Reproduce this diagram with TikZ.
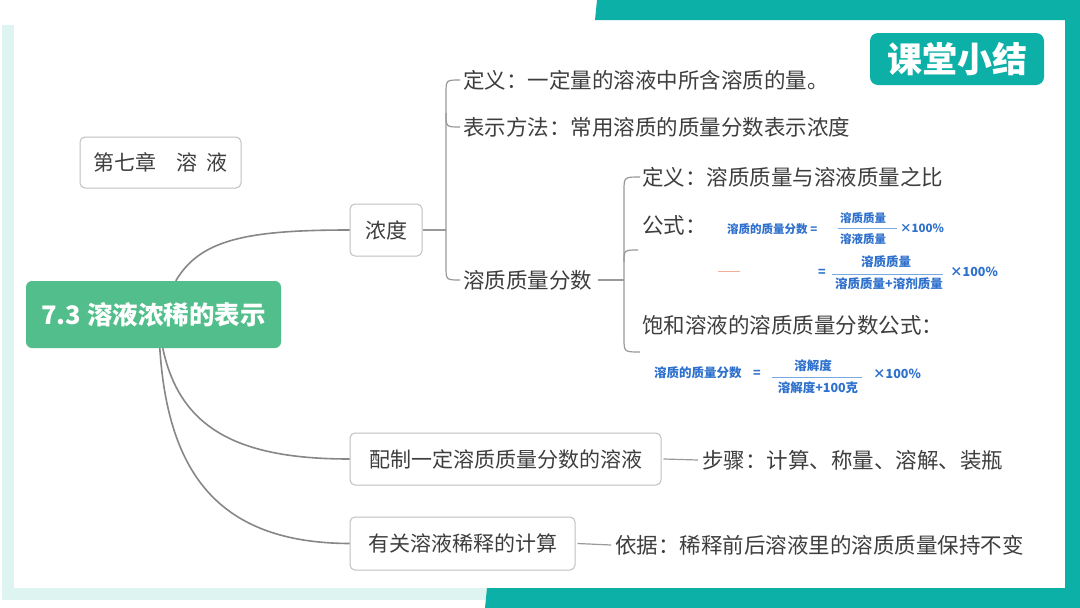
\documentclass[tikz,border=0pt]{standalone}
\usepackage{fontspec}
\setmainfont{Noto Sans CJK SC}
\usetikzlibrary{calc}
\definecolor{teal1}{RGB}{12,176,166}
\definecolor{shadowc}{RGB}{222,244,241}
\definecolor{greenn}{RGB}{82,190,140}
\definecolor{txt}{RGB}{62,62,62}
\definecolor{lnc}{RGB}{135,135,135}
\definecolor{bdr}{RGB}{192,192,192}
\definecolor{fblue}{RGB}{45,112,205}
\definecolor{barblue}{RGB}{120,170,225}
\definecolor{orng}{RGB}{240,175,150}
\begin{document}
\begin{tikzpicture}[x=1pt,y=-1pt,
  box/.style={draw=bdr,line width=1pt,rounded corners=5pt,fill=white,
    font=\fontsize{21}{24}\selectfont,text=txt,inner sep=0pt,minimum height=52pt},
  lbl/.style={anchor=west,font=\fontsize{21.5}{24}\selectfont,text=txt,inner sep=0pt},
  conn/.style={draw=lnc,line width=1.6pt},
  br/.style={draw=lnc!85,line width=1.2pt},
  fm/.style={font=\fontsize{11.5}{13}\selectfont\bfseries,text=fblue,inner sep=0pt},
  fmb/.style={font=\fontsize{12.5}{14}\selectfont\bfseries,text=fblue,inner sep=0pt},
  fbar/.style={draw=barblue,line width=0.9pt}
]
\useasboundingbox (0,0) rectangle (1080,608);
% background
\fill[white] (0,0) rectangle (1080,608);
\fill[shadowc] (2,25) rectangle (14,600);
\fill[shadowc] (2,588) rectangle (490,600);
\fill[white] (14,20) rectangle (1065,588);
\fill[teal1] (597,0) -- (1080,0) -- (1080,20) -- (595,20) -- cycle;
\fill[teal1] (1065,0) rectangle (1080,608);
\fill[teal1] (487,588) -- (1080,588) -- (1080,608) -- (485,608) -- cycle;

% title
\node[fill=teal1,rounded corners=8pt,minimum width=174pt,minimum height=52pt,inner sep=0pt,
  text=white,font=\fontsize{35}{38}\selectfont\bfseries] (title) at (957,59) {课堂小结};

% nodes
\node[box,minimum width=161pt,minimum height=51pt] (chap) at (160.5,162.5) {第七章\hspace{20pt}溶\hspace{9pt}液};
\node[fill=greenn,rounded corners=6pt,minimum width=255pt,minimum height=67pt,inner sep=0pt,
  text=white,font=\fontsize{25.5}{28}\selectfont\bfseries] (main) at (153.5,314.5) {7.3 溶液浓稀的表示};
\node[box,minimum width=72pt] (nd) at (386,230) {浓度};
\node[box,minimum width=311pt] (pz) at (505.5,459) {配制一定溶质质量分数的溶液};
\node[box,minimum width=225pt,minimum height=53pt] (yg) at (462.5,543.5) {有关溶液稀释的计算};

% level-2 labels
\node[lbl] (def1) at (463,80) {定义：一定量的溶液中所含溶质的量。};
\node[lbl] (rep1) at (463,127) {表示方法：常用溶质的质量分数表示浓度};
\node[lbl] (zf) at (463,280) {溶质质量分数};
\node[lbl] (def2) at (642,177) {定义：溶质质量与溶液质量之比};
\node[lbl] (gs) at (642,225) {公式：};
\node[lbl] (bh) at (642,325) {饱和溶液的溶质质量分数公式：};
\node[lbl] (bz) at (702,460) {步骤：计算、称量、溶解、装瓶};
\node[lbl] (yj) at (615,545) {依据：稀释前后溶液里的溶质质量保持不变};

% connectors from main
\draw[conn] ($(main.north west)+(150,0)$) .. controls (200,240) and (245,230) .. (nd.west);
\draw[conn] ($(main.south west)+(137,0)$) .. controls (180,430) and (240,459) .. (pz.west);
\draw[conn] ($(main.south west)+(134,0)$) .. controls (168,475) and (220,543) .. (yg.west);

% brace 1
\coordinate (b1) at (446,230);
\draw[br] ($(def1.west)+(-3,0)$) .. controls (446,80) .. (446,94) -- (446,266)
  .. controls (446,280) .. ($(zf.west)+(-3,0)$);
\draw[br] (446,113) .. controls (446,127) .. ($(rep1.west)+(-3,0)$);
\draw[br] (nd.east) -- (b1);

% brace 2
\coordinate (b2) at (624,280);
\coordinate (b2end) at (640,352);
\coordinate (b2tick) at (638,250);
\draw[br] ($(zf.east)+(6,0)$) -- (b2);
\draw[br] ($(def2.west)+(-2,0)$) .. controls (624,177) .. (624,191) -- (624,338)
  .. controls (624,352) .. (b2end);
\draw[br] (624,262) .. controls (624,250) .. (b2tick);

% short lines
\draw[br] ($(pz.east)+(2,0)$) -- ($(bz.west)+(-4,0)$);
\draw[br] ($(yg.east)+(2,0)$) -- ($(yj.west)+(-4,0)$);

% formula 1
\node[fm,anchor=west] (f1a) at (727,229) {溶质的质量分数 =};
\node[fm] (f1n) at (863,218) {溶质质量};
\node[fm] (f1d) at (863,239) {溶液质量};
\draw[fbar] (838,228.5) -- (897,228.5);
\node[fm,anchor=west] (f1x) at (900,228) {×100\%};

% formula 2
\draw[orng,line width=1pt] (718,271) -- (740,271);
\node[fmb] (f2e) at (822,273) {=};
\node[fmb] (f2n) at (886,262) {溶质质量};
\draw[fbar] (832,274) -- (943,274);
\node[fmb] (f2d) at (889,284) {溶质质量+溶剂质量};
\node[fmb,anchor=west] (f2x) at (950,272) {×100\%};

% formula 3
\node[fmb,anchor=west] (f3a) at (654,373) {溶质的质量分数};
\node[fmb] (f3e) at (757,374) {=};
\node[fmb] (f3n) at (813,366) {溶解度};
\draw[fbar] (772,377) -- (862,377);
\node[fmb] (f3d) at (818,388) {溶解度+100克};
\node[fmb,anchor=west] (f3x) at (873,374) {×100\%};
\end{tikzpicture}
\end{document}
